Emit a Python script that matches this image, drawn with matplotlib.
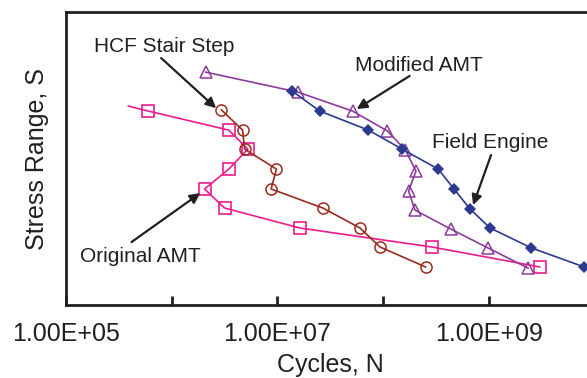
import numpy as np
import matplotlib.pyplot as plt

plt.rcParams['font.family'] = ['Liberation Sans', 'DejaVu Sans']

# log10(cycles) and stress range (arbitrary units 0-100)
orig_logn = [5.59, 5.78, 6.54, 6.72, 6.54, 6.31, 6.50, 7.21, 8.46, 9.48]
orig_s = [67.9, 66.2, 59.7, 53.2, 46.4, 39.6, 33.1, 26.3, 19.8, 13.0]

hcf_logn = [6.47, 6.67, 6.69, 6.99, 6.94, 7.43, 7.78, 7.97, 8.40]
hcf_s = [66.6, 59.7, 53.2, 46.4, 39.6, 33.1, 26.3, 19.8, 13.0]

mod_logn = [6.32, 7.19, 7.71, 8.04, 8.21, 8.31, 8.24, 8.30, 8.64, 8.99, 9.37]
mod_s = [79.5, 72.7, 66.2, 59.4, 52.9, 45.7, 38.9, 32.4, 25.9, 19.5, 12.6]

field_logn = [7.14, 7.40, 7.86, 8.18, 8.52, 8.67, 8.82, 9.01, 9.40, 9.90]
field_s = [73.0, 66.2, 59.7, 53.2, 46.4, 39.6, 32.8, 26.3, 19.5, 13.0]

# label text, text position, arrow tail, arrow tip
labels = ['HCF Stair Step', 'Original AMT', 'Modified AMT', 'Field Engine']
label_pos = [(5.93, 88.1), (5.70, 16.7), (8.34, 81.9), (9.01, 55.6)]
arrow_tail = [(5.90, 84.3), (5.62, 21.5), (8.25, 78.2), (9.02, 51.2)]
arrow_tip = [(6.42, 67.2), (6.27, 38.2), (7.75, 66.9), (8.85, 34.1)]

fig = plt.figure(figsize=(5.87, 3.78), dpi=100)
ax = fig.add_axes([0.1124, 0.1931, 0.9007, 0.775])

def N(v):
    return 10 ** np.array(v)

ax.plot(N(orig_logn), orig_s, color='#EC1C8C', lw=1.2, marker='s', ms=8.5,
        mfc='none', mew=1.2, markevery=list(range(1, len(orig_s))))
ax.plot(N(hcf_logn), hcf_s, color='#9B2B1E', lw=1.2, marker='o', ms=8,
        mfc='none', mew=1.1)
ax.plot(N(mod_logn), mod_s, color='#8E3A9D', lw=1.2, marker='^', ms=9,
        mfc='none', mew=1.1)
ax.plot(N(field_logn), field_s, color='#2B3990', lw=1.2, marker='D', ms=6.5,
        mew=0)

for lab, tp, tail, tip in zip(labels, label_pos, arrow_tail, arrow_tip):
    ax.text(10 ** tp[0], tp[1], lab, fontsize=15, ha='center', va='center',
            color='#231F20')
    ax.annotate('', xy=(10 ** tip[0], tip[1]), xytext=(10 ** tail[0], tail[1]),
                arrowprops=dict(arrowstyle='-|>', color='#231F20', lw=1.6,
                                mutation_scale=15, shrinkA=0, shrinkB=0))

ax.set_xscale('log')
ax.set_xlim(1e5, 1e10)
ax.set_ylim(0, 100)
ax.set_xticks([1e5, 1e6, 1e7, 1e8, 1e9])
ax.set_xticklabels(['1.00E+05', '', '1.00E+07', '', '1.00E+09'])
ax.minorticks_off()
ax.tick_params(axis='x', direction='in', length=6.5, width=2, labelsize=18,
               pad=12, colors='#231F20')
ax.set_yticks([])
for sp in ax.spines.values():
    sp.set_linewidth(2)
    sp.set_color('#231F20')

ax.set_xlabel('Cycles, N', fontsize=18, color='#231F20', labelpad=5)
ax.set_ylabel('Stress Range, S', fontsize=18, color='#231F20', labelpad=12)

fig.savefig('out.png', dpi=100)
